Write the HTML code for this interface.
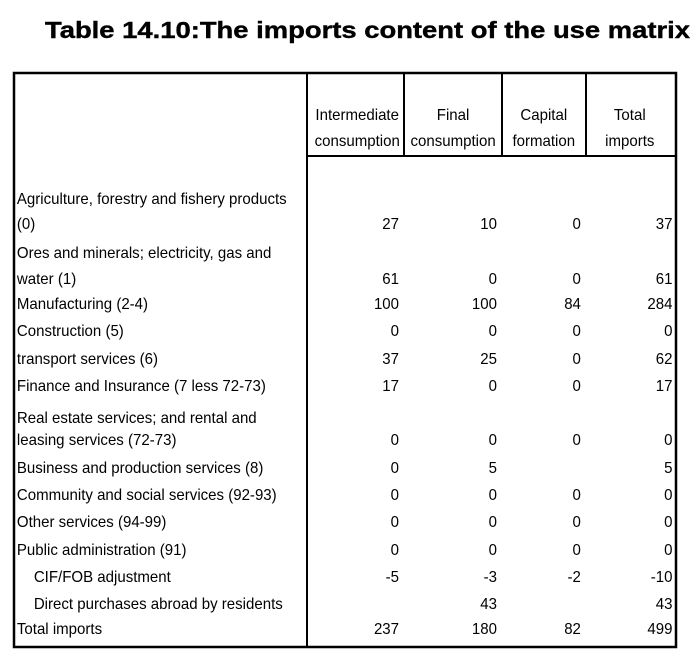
<!DOCTYPE html>
<html><head><meta charset="utf-8"><style>
body{margin:0;background:#fff}
svg{display:block}
text{font-family:"Liberation Sans",Arial,sans-serif;fill:#000}
</style></head><body>
<svg width="700" height="660" viewBox="0 0 700 660">
<text x="45" y="38" font-size="23" font-weight="bold" stroke="#000" stroke-width="0.4" textLength="645" lengthAdjust="spacingAndGlyphs">Table 14.10:The imports content of the use matrix</text>
<g stroke="#000" fill="none">
<rect x="14" y="73" width="662" height="574" stroke-width="2.5"/>
<line x1="307" y1="73" x2="307" y2="647" stroke-width="2"/>
<line x1="404" y1="73" x2="404" y2="156" stroke-width="2"/>
<line x1="502" y1="73" x2="502" y2="156" stroke-width="2"/>
<line x1="586" y1="73" x2="586" y2="156" stroke-width="2"/>
<line x1="307" y1="156" x2="676" y2="156" stroke-width="2"/>
</g>
<g font-size="16" transform="scale(0.94,1)" text-anchor="middle">
<text x="380" y="120">Intermediate</text><text x="380" y="146">consumption</text>
<text x="482" y="120">Final</text><text x="482" y="146">consumption</text>
<text x="578.5" y="120">Capital</text><text x="578.5" y="146">formation</text>
<text x="670" y="120">Total</text><text x="670" y="146">imports</text>
</g>
<g font-size="16" transform="scale(0.94,1)">
<text x="18" y="204">Agriculture, forestry and fishery products</text>
<text x="18" y="229">(0)</text>
<text x="18" y="258">Ores and minerals; electricity, gas and</text>
<text x="18" y="284">water (1)</text>
<text x="18" y="309">Manufacturing (2-4)</text>
<text x="18" y="336">Construction (5)</text>
<text x="18" y="364">transport services  (6)</text>
<text x="18" y="391">Finance and Insurance (7 less 72-73)</text>
<text x="18" y="423">Real estate services; and rental and</text>
<text x="18" y="445">leasing services (72-73)</text>
<text x="18" y="473">Business and production services (8)</text>
<text x="18" y="500">Community and social services (92-93)</text>
<text x="18" y="527">Other services (94-99)</text>
<text x="18" y="555">Public administration (91)</text>
<text x="36" y="582">CIF/FOB adjustment</text>
<text x="36" y="609">Direct purchases abroad by residents</text>
<text x="18" y="634">Total imports</text>
</g>
<g font-size="16" transform="scale(0.94,1)" text-anchor="end">
<g transform="translate(424.5,0)"><text y="229">27</text><text y="284">61</text><text y="309">100</text><text y="336">0</text><text y="364">37</text><text y="391">17</text><text y="445">0</text><text y="473">0</text><text y="500">0</text><text y="527">0</text><text y="555">0</text><text y="582">-5</text><text y="634">237</text></g>
<g transform="translate(528.7,0)"><text y="229">10</text><text y="284">0</text><text y="309">100</text><text y="336">0</text><text y="364">25</text><text y="391">0</text><text y="445">0</text><text y="473">5</text><text y="500">0</text><text y="527">0</text><text y="555">0</text><text y="582">-3</text><text y="609">43</text><text y="634">180</text></g>
<g transform="translate(618,0)"><text y="229">0</text><text y="284">0</text><text y="309">84</text><text y="336">0</text><text y="364">0</text><text y="391">0</text><text y="445">0</text><text y="500">0</text><text y="527">0</text><text y="555">0</text><text y="582">-2</text><text y="634">82</text></g>
<g transform="translate(715.4,0)"><text y="229">37</text><text y="284">61</text><text y="309">284</text><text y="336">0</text><text y="364">62</text><text y="391">17</text><text y="445">0</text><text y="473">5</text><text y="500">0</text><text y="527">0</text><text y="555">0</text><text y="582">-10</text><text y="609">43</text><text y="634">499</text></g>
</g>
</svg>
</body></html>
